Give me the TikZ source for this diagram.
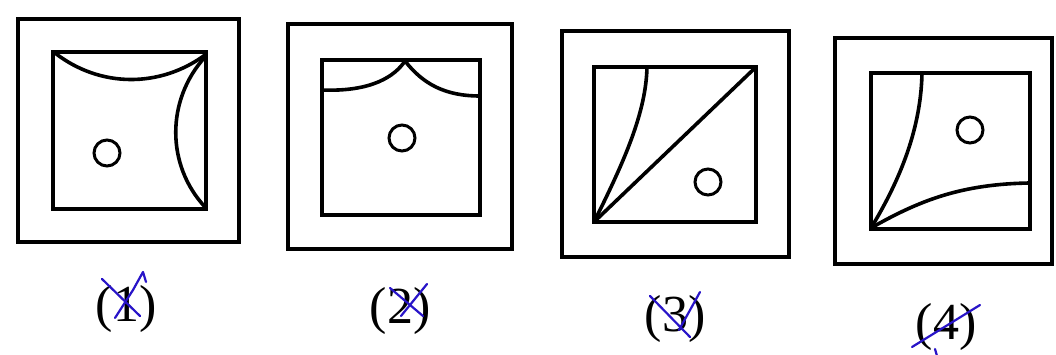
\documentclass[tikz,border=0pt]{standalone}
\usepackage{fontspec}
\setmainfont{Liberation Serif}
\begin{document}
\begin{tikzpicture}[x=1pt,y=-1pt,
  box/.style={draw=black,line width=4.4pt},
  curve/.style={draw=black,line width=3.6pt},
  dot/.style={draw=black,line width=3pt},
  lbl/.style={font=\fontsize{52}{56}\selectfont,inner sep=0pt},
  pen/.style={draw={rgb,255:red,40;green,20;blue,200},line width=2.2pt,line cap=round,line join=round}]
\useasboundingbox (0,0) rectangle (1056,355);
% panel 1
\draw[box] (18,19) rectangle (239,242);
\draw[box] (53,52) rectangle (206,209);
\draw[curve] (55,53) .. controls (100,88) and (160,88) .. (205,55);
\draw[curve] (205,57) .. controls (166,100) and (166,165) .. (205,207);
\draw[dot] (107,153) circle (13);
% panel 2
\draw[box] (288,24) rectangle (512,249);
\draw[box] (322,60) rectangle (480,215);
\draw[curve] (322,90) .. controls (372,92) and (395,76) .. (405,61);
\draw[curve] (405,61) .. controls (423,84) and (445,96) .. (480,96);
\draw[dot] (402,138) circle (13);
% panel 3
\draw[box] (562,31) rectangle (789,257);
\draw[box] (594,67) rectangle (756,222);
\draw[curve] (594,222) -- (756,67);
\draw[curve] (647,67) .. controls (646,112) and (625,160) .. (594,222);
\draw[dot] (708,182) circle (13);
% panel 4
\draw[box] (835,38) rectangle (1052,264);
\draw[box] (871,73) rectangle (1030,229);
\draw[curve] (922,73) .. controls (921,122) and (905,172) .. (871,228);
\draw[curve] (871,228) .. controls (920,200) and (962,184) .. (1030,183);
\draw[dot] (970,130) circle (13);
% labels
\node[lbl] (l1) at (126,309) {(1)};
\node[lbl] (l2) at (400,311) {(2)};
\node[lbl] (l3) at (675,319) {(3)};
\node[lbl] (l4) at (946,327) {(4)};
% pen marks
\draw[pen] (102,279) -- (140,316);
\draw[pen] (115,318) -- (133,290) -- (143,272) -- (146,282);
\draw[pen] (390,288) -- (423,316);
\draw[pen] (401,316) -- (427,284);
\draw[pen] (650,296) -- (690,337);
\draw[pen] (679,330) -- (700,292);
\draw[pen] (912,347) -- (980,305);
\draw[pen] (935,349) -- (937,356);
\end{tikzpicture}
\end{document}
